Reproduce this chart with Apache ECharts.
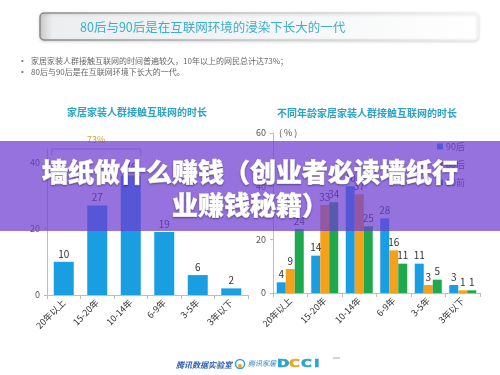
<!DOCTYPE html>
<html>
<head>
<meta charset="utf-8">
<script src="https://cdn.jsdelivr.net/npm/echarts@6/dist/echarts.min.js"></script>
<style>html,body{margin:0;padding:0;background:#fff;}#c{width:500px;height:375px;}</style>
</head>
<body>
<div id="c"></div>
<script>
// ---- data ----
const categories = ['20年以上', '15-20年', '10-14年', '6-9年', '3-5年', '3年以下'];
const leftValues = [10, 27, 36, 19, 6, 2];
const rightNames = ['90后', '80后', '80前'];
const right90 = [4, 14, 40, 28, 11, 3];
const right80 = [9, 33, 37, 16, 3, 1];
const rightPre80 = [24, 34, 25, 11, 5, 1];
const leftTicks = [0, 20, 40];
const rightTicks = [0, 20, 40, 60];
const bracketCount = 3; // first three categories summed (73%)

const headerTitle = '80后与90后是在互联网环境的浸染下长大的一代';
const bullets = ['家居家装人群接触互联网的时间普遍较久，10年以上的网民总计达73%；', '80后与90后是在互联网环境下长大的一代。'];
const leftTitle = '家居家装人群接触互联网的时长';
const rightTitle = '不同年龄家居家装人群接触互联网的时长';
const bannerLines = ['墙纸做什么赚钱（创业者必读墙纸行', '业赚钱秘籍）'];

const FONT = '"Noto Sans CJK SC", "Noto Sans", sans-serif';
const chart = echarts.init(document.getElementById('c'), null, {renderer: 'canvas'});

const axisLineStyle = {lineStyle: {color: '#bdbdbd', width: 1}};
const xLabel = {rotate: 45, fontSize: 9, color: '#333', margin: 6, interval: 0};
const yLabel = {fontSize: 9, color: '#555', margin: 7};
const barLabel = {show: true, position: 'top', fontSize: 10, color: '#333', distance: 3};

chart.setOption({
  animation: false,
  backgroundColor: '#ffffff',
  textStyle: {fontFamily: FONT},
  legend: {
    data: rightNames, orient: 'vertical', left: 432, top: 137,
    itemWidth: 6, itemHeight: 6, itemGap: 9, icon: 'rect',
    textStyle: {fontSize: 9, color: '#555', padding: [0, 0, 0, -2]}
  },
  grid: [
    {left: 47, top: 149, width: 201, height: 146},
    {left: 273, top: 133, width: 207, height: 160}
  ],
  xAxis: [
    {type: 'category', gridIndex: 0, data: categories, axisLine: axisLineStyle,
     axisTick: {show: true, length: 4, lineStyle: {color: '#bdbdbd'}}, axisLabel: xLabel},
    {type: 'category', gridIndex: 1, data: categories, axisLine: axisLineStyle,
     axisTick: {show: true, length: 4, lineStyle: {color: '#bdbdbd'}}, axisLabel: xLabel}
  ],
  yAxis: [
    {type: 'value', gridIndex: 0, min: leftTicks[0], max: 44, interval: leftTicks[1] - leftTicks[0],
     axisLine: Object.assign({show: true}, axisLineStyle),
     axisTick: {show: true, length: 3, lineStyle: {color: '#bdbdbd'}},
     axisLabel: Object.assign({showMaxLabel: false}, yLabel), splitLine: {show: false}},
    {type: 'value', gridIndex: 1, min: rightTicks[0], max: rightTicks[rightTicks.length - 1],
     interval: rightTicks[1] - rightTicks[0],
     name: '( % )', nameLocation: 'end', nameGap: 0,
     nameTextStyle: {fontSize: 9, color: '#555', align: 'left', verticalAlign: 'middle', padding: [0, 0, 0, 6]},
     axisLine: Object.assign({show: true}, axisLineStyle),
     axisTick: {show: true, length: 3, lineStyle: {color: '#bdbdbd'}},
     axisLabel: yLabel, splitLine: {show: false}}
  ],
  series: [
    {type: 'bar', xAxisIndex: 0, yAxisIndex: 0, data: leftValues, barWidth: 20,
     itemStyle: {color: '#1a9ee2'}, label: barLabel},
    {type: 'bar', name: rightNames[0], xAxisIndex: 1, yAxisIndex: 1, data: right90, barWidth: 9, barGap: '0%',
     itemStyle: {color: '#1a9ee2'}, label: barLabel},
    {type: 'bar', name: rightNames[1], xAxisIndex: 1, yAxisIndex: 1, data: right80, barWidth: 9, barGap: '0%',
     itemStyle: {color: '#f4a11c'}, label: barLabel},
    {type: 'bar', name: rightNames[2], xAxisIndex: 1, yAxisIndex: 1, data: rightPre80, barWidth: 9, barGap: '0%',
     itemStyle: {color: '#1fa94e'}, label: barLabel}
  ]
});

// bracket for first three categories, positioned through the axes
const x0 = chart.convertToPixel({xAxisIndex: 0}, 0) - 12;
const x1 = chart.convertToPixel({xAxisIndex: 0}, bracketCount - 1) + 10;
const yB = chart.convertToPixel({yAxisIndex: 0}, 44);
const sumPct = leftValues.slice(0, bracketCount).reduce((a, b) => a + b, 0);

const g = [];
// header bar
g.push({type: 'rect', shape: {x: 40, y: 13, width: 438, height: 27, r: 4}, z: 1,
  style: {fill: new echarts.graphic.LinearGradient(0, 0, 1, 0, [
      {offset: 0, color: '#c9c9c9'}, {offset: 0.03, color: '#eceef0'}, {offset: 0.6, color: '#f6f7f8'}, {offset: 1, color: '#ffffff'}]),
    stroke: new echarts.graphic.LinearGradient(0, 0, 1, 0, [
      {offset: 0, color: '#8a8a8a'}, {offset: 0.5, color: '#c8c8c8'}, {offset: 1, color: '#f4f4f4'}]),
    lineWidth: 1.5, shadowBlur: 3, shadowColor: 'rgba(0,0,0,0.15)', shadowOffsetY: 1}});
g.push({type: 'text', x: 80, y: 27, z: 2, style: {text: headerTitle, fill: '#3aafc9', fontSize: 12.5, fontFamily: FONT, verticalAlign: 'middle'}});
bullets.forEach((b, i) => {
  g.push({type: 'text', x: 21, y: 61 + i * 11, z: 2, style: {text: '•', fill: '#777', fontSize: 8, verticalAlign: 'middle'}});
  g.push({type: 'text', x: 31, y: 61 + i * 11, z: 2, style: {text: b, fill: '#666', fontSize: 8, fontFamily: FONT, verticalAlign: 'middle'}});
});
// chart titles
g.push({type: 'text', x: 137, y: 112, z: 2, style: {text: leftTitle, fill: '#2aa3c4', fontSize: 10, fontWeight: 'bold', fontFamily: FONT, align: 'center', verticalAlign: 'middle'}});
g.push({type: 'text', x: 367, y: 113, z: 2, style: {text: rightTitle, fill: '#2aa3c4', fontSize: 10, fontWeight: 'bold', fontFamily: FONT, align: 'center', verticalAlign: 'middle'}});
// bracket
g.push({type: 'polyline', z: 3, shape: {points: [[x0, yB + 6], [x0, yB], [x1, yB], [x1, yB + 6]]}, style: {stroke: '#b0b0b0', lineWidth: 1, fill: null}});
g.push({type: 'text', x: (x0 + x1) / 2, y: yB - 9, z: 3, style: {text: sumPct + '%', fill: '#d4aa2c', fontSize: 9, fontFamily: FONT, align: 'center', verticalAlign: 'middle'}});
// bottom logos
g.push({type: 'text', x: 176, y: 365, z: 2, style: {text: '腾讯数据实验室', fill: '#2a5caa', fontSize: 8, fontStyle: 'italic', fontWeight: 'bold', fontFamily: FONT, verticalAlign: 'middle'}});
g.push({type: 'circle', z: 2, shape: {cx: 240, cy: 364, r: 4.5}, style: {fill: '#fff', stroke: '#3aa0d8', lineWidth: 1.5}});
g.push({type: 'circle', z: 2, shape: {cx: 240, cy: 366, r: 2}, style: {fill: '#f4a11c'}});
g.push({type: 'text', x: 248, y: 363, z: 2, style: {text: '腾讯家居', fill: '#2a7ac0', fontSize: 7, fontStyle: 'italic', fontFamily: FONT, verticalAlign: 'middle'}});
const dcci = [['D', '#2aa6cc', 277], ['C', '#f0a420', 289], ['C', '#2aa6cc', 301], ['I', '#2aa6cc', 314]];
dcci.forEach(d => g.push({type: 'text', x: d[2], y: 364, z: 2, scaleX: 1.35, originX: 0, originY: 0,
  style: {text: d[0], fill: d[1], fontSize: 11, fontWeight: 'bold', stroke: d[1], lineWidth: 0.6, fontFamily: '"DejaVu Sans", sans-serif', verticalAlign: 'middle'}}));
g.push({type: 'line', z: 2, shape: {x1: 333, y1: 358, x2: 340, y2: 358}, style: {stroke: '#aaa', lineWidth: 1}});
// purple banner overlay
g.push({type: 'rect', z: 100, shape: {x: 0, y: 141, width: 500, height: 90}, style: {fill: 'rgba(110,60,210,0.72)'}});
bannerLines.forEach((t, i) => {
  g.push({type: 'text', x: 250, y: 172 + i * 33, z: 101, style: {text: t, fill: '#ffffff', fontSize: 26, fontWeight: 900, fontFamily: FONT,
    align: 'center', verticalAlign: 'middle', stroke: '#ffffff', lineWidth: 0.6,
    textShadowColor: 'rgba(0,0,0,0.35)', textShadowBlur: 2, textShadowOffsetY: 1}});
});

chart.setOption({graphic: {elements: g}});
</script>
</body>
</html>
